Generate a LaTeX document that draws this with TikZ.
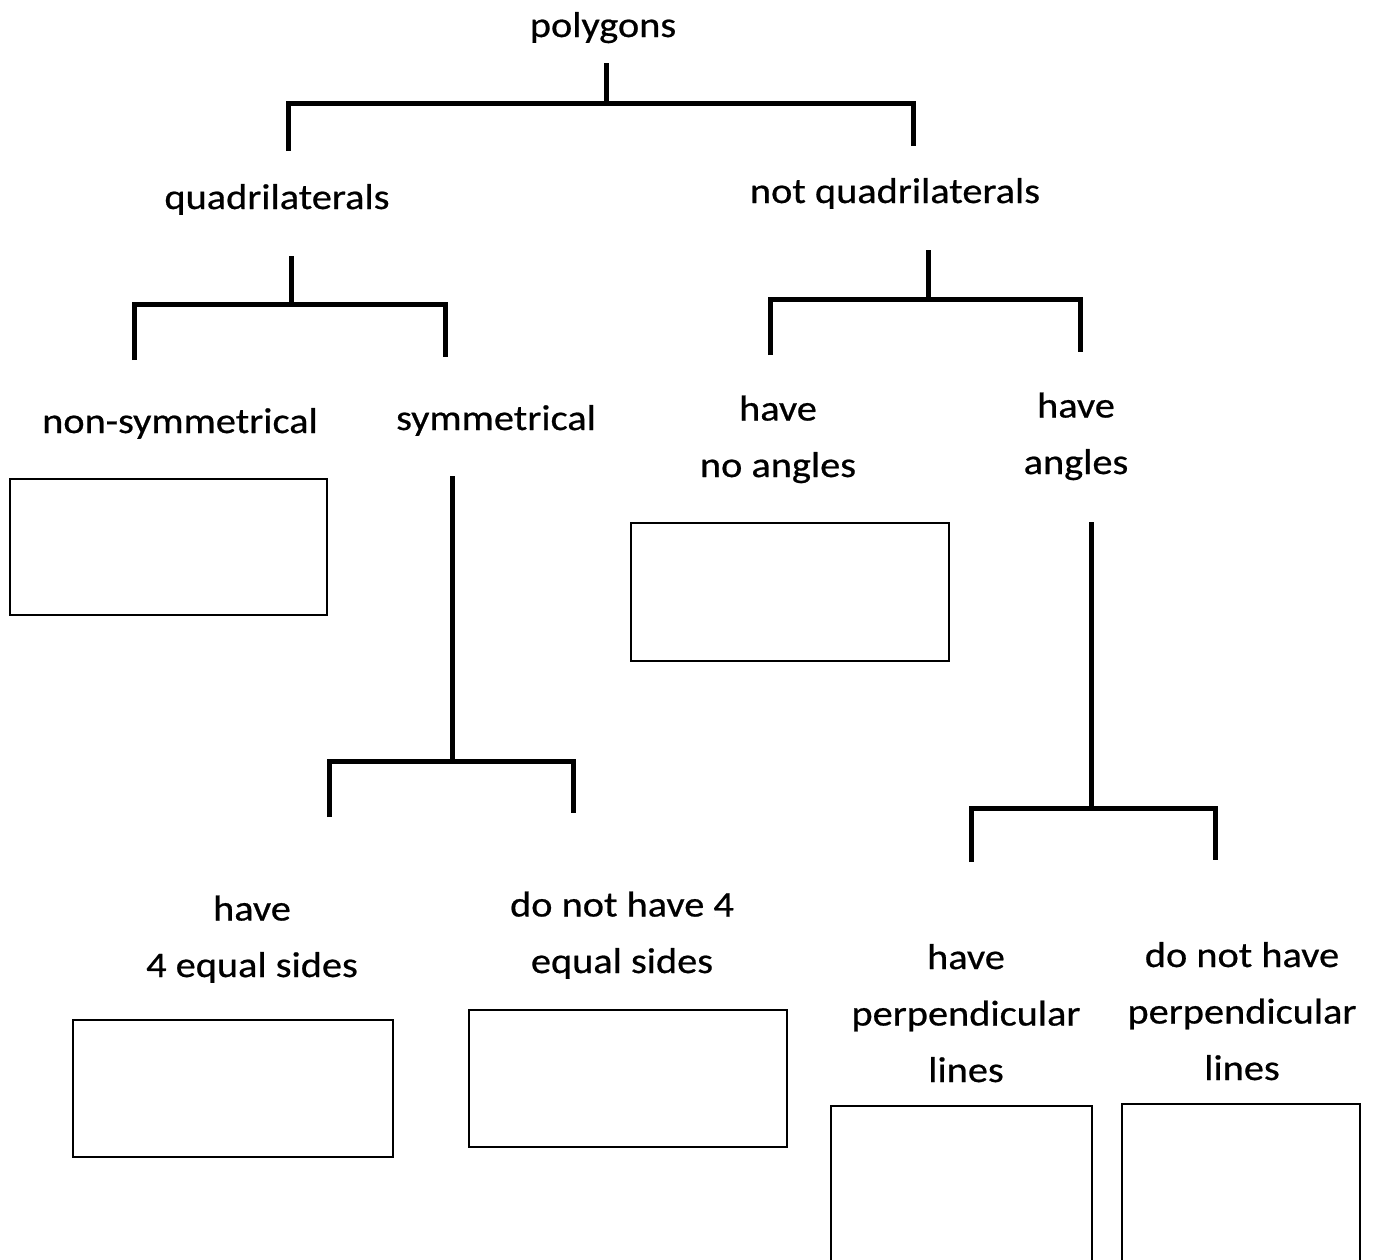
\documentclass[tikz,border=0pt]{standalone}
\usepackage{fontspec}
\setmainfont{Carlito}[FakeStretch=1.12, FakeBold=0.6]
\usetikzlibrary{positioning}

\tikzset{
  lbl/.style={inner sep=0pt, align=center, anchor=base,
    font=\fontsize{36}{56.5}\selectfont},
  fork/.style={line width=5pt},
  answer/.style={draw, line width=2.5pt, inner sep=0pt}
}

\begin{document}
\begin{tikzpicture}[x=1pt, y=-1pt]
  \clip (0,0) rectangle (1375,1259);

  % Define nodes (base = baseline of the last line)
  \node[lbl] (poly)  at (603,37)    {polygons}; %
  \node[lbl] (quad)  at (277,209)   {quadrilaterals}; %
  \node[lbl] (nquad) at (895,203)   {not quadrilaterals}; %
  \node[lbl] (nsym)  at (180,433)   {non-symmetrical}; %
  \node[lbl] (sym)   at (496,430)   {symmetrical}; %
  \node[lbl] (noang) at (778,477)   {have\\no angles}; %
  \node[lbl] (ang)   at (1076,474)  {have\\angles}; %
  \node[lbl] (eq)    at (252,977)   {have\\4 equal sides}; %
  \node[lbl] (neq)   at (622,973)   {do not have 4\\equal sides}; %
  \node[lbl] (perp)  at (966,1082)  {have\\perpendicular\\lines}; %
  \node[lbl] (nperp) at (1242,1080) {do not have\\perpendicular\\lines}; %

  % Answer boxes
  \node[answer, minimum width=317pt, minimum height=136pt] (bnsym)  at (168.5,547)  {};
  \node[answer, minimum width=318pt, minimum height=138pt] (bnoang) at (790,592)    {};
  \node[answer, minimum width=320pt, minimum height=137pt] (beq)    at (233,1088.5) {};
  \node[answer, minimum width=318pt, minimum height=137pt] (bneq)   at (628,1078.5) {};
  \node[answer, minimum width=261pt, minimum height=190pt] (bperp)  at (961.5,1201) {};
  \node[answer, minimum width=238pt, minimum height=190pt] (bnperp) at (1241,1199)  {};

  % Forks
  \coordinate (j1) at (606,103);  \coordinate (l1) at (288,151); \coordinate (r1) at (913,146);
  \coordinate (j2) at (291,304);  \coordinate (l2) at (134,360); \coordinate (r2) at (445,357);
  \coordinate (j3) at (928,299);  \coordinate (l3) at (770,355); \coordinate (r3) at (1080,352);
  \coordinate (j4) at (452,761);  \coordinate (l4) at (329,817); \coordinate (r4) at (573,813);
  \coordinate (j5) at (1091,808); \coordinate (l5) at (971,862); \coordinate (r5) at (1215,860);

  \draw[fork, shorten <=20pt] (poly.south -| j1) -- (j1);
  \draw[fork] (l1) |- (j1) -| (r1);
  \draw[fork, shorten <=41pt] (quad.south -| j2) -- (j2);
  \draw[fork] (l2) |- (j2) -| (r2);
  \draw[fork, shorten <=41pt] (nquad.south -| j3) -- (j3);
  \draw[fork] (l3) |- (j3) -| (r3);
  \draw[fork, shorten <=40pt] (sym.south -| j4) -- (j4);
  \draw[fork] (l4) |- (j4) -| (r4);
  \draw[fork, shorten <=42pt] (ang.south -| j5) -- (j5);
  \draw[fork] (l5) |- (j5) -| (r5);

\end{tikzpicture}
\end{document}
